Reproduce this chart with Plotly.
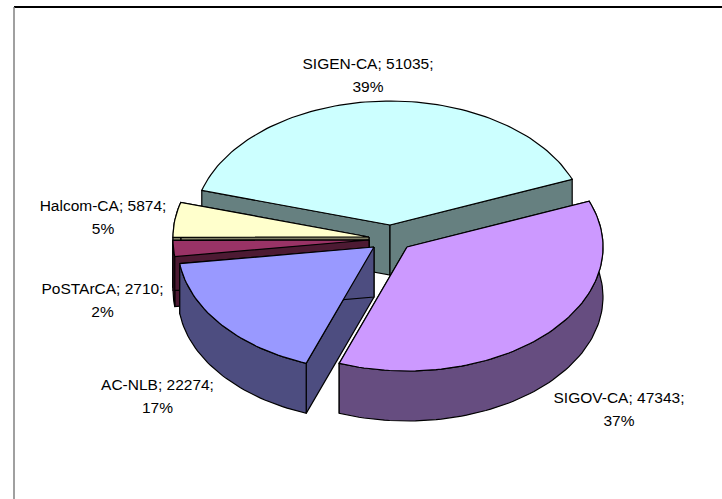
import math
import plotly.graph_objects as go

# ---- data ----
names = ["SIGEN-CA", "SIGOV-CA", "AC-NLB", "PoSTArCA", "Halcom-CA"]
values = [51035, 47343, 22274, 2710, 5874]

# ---- styles ----
top_colors = ["#CCFFFF", "#CC99FF", "#9999FF", "#993366", "#FFFFCC"]
wall_colors = ["#668080", "#664D80", "#4D4D80", "#4D1A33", "#808066"]
draw_order = [0, 4, 3, 2, 1]

# ---- projection settings (pixel axes) ----
W, H = 722, 499
CX, CY = 390, 225
RX, RY = 196, 124
DEPTH = 50
START_DEG = 286.2
explode_offsets = [(0, 0), (17, 22), (-16, 22), (-21, 15), (-21, 12)]
label_anchor = [(368, 65), (619, 399), (157.5, 386), (102.5, 290), (103, 207)]
LINE_GAP = 23
FONT = dict(family="Liberation Sans, Arial, sans-serif", size=15.5, color="#000000")

total = sum(values)


def rim(ax, ay, deg, drop=0):
    t = math.radians(deg)
    return ax + RX * math.sin(t), ay - RY * math.cos(t) + drop


def arc(ax, ay, a0, a1, drop=0):
    n = max(2, int(abs(a1 - a0) / 1.5) + 1)
    return [rim(ax, ay, a0 + (a1 - a0) * i / (n - 1), drop) for i in range(n)]


def poly(pts, fill):
    xs = [p[0] for p in pts] + [pts[0][0]]
    ys = [p[1] for p in pts] + [pts[0][1]]
    return go.Scatter(x=xs, y=ys, mode="lines", fill="toself", fillcolor=fill,
                      line=dict(color="#000000", width=1.2), hoverinfo="skip",
                      showlegend=False)


spans, a = [], START_DEG
for v in values:
    s = v / total * 360
    spans.append((a, a + s))
    a += s

fig = go.Figure()

# frame
fig.add_trace(go.Scatter(x=[14, W], y=[7, 7], mode="lines",
                         line=dict(color="#000000", width=2), hoverinfo="skip", showlegend=False))
fig.add_trace(go.Scatter(x=[14, 14], y=[7, H], mode="lines",
                         line=dict(color="#808080", width=1.5), hoverinfo="skip", showlegend=False))

for i in draw_order:
    a0, a1 = spans[i]
    ax, ay = CX + explode_offsets[i][0], CY + explode_offsets[i][1]
    wall, top = wall_colors[i], top_colors[i]
    for edge in (a0, a1):
        p = rim(ax, ay, edge)
        fig.add_trace(poly([(ax, ay), p, (p[0], p[1] + DEPTH), (ax, ay + DEPTH)], wall))
    if i != 0:
        fig.add_trace(poly(arc(ax, ay, a0, a1) + arc(ax, ay, a1, a0, DEPTH), wall))
    fig.add_trace(poly([(ax, ay)] + arc(ax, ay, a0, a1), top))

# labels
label_x, label_y, label_text = [], [], []
for name, v, (lx, ly) in zip(names, values, label_anchor):
    label_x += [lx, lx]
    label_y += [ly, ly + LINE_GAP]
    label_text += [f"{name}; {v};", f"{round(v / total * 100)}%"]
fig.add_trace(go.Scatter(x=label_x, y=label_y, text=label_text, mode="text",
                         textposition="middle center", textfont=FONT,
                         hoverinfo="skip", showlegend=False))

fig.update_layout(
    width=W, height=H, margin=dict(l=0, r=0, t=0, b=0),
    paper_bgcolor="#FFFFFF", plot_bgcolor="#FFFFFF", showlegend=False,
    xaxis=dict(range=[0, W], visible=False, fixedrange=True),
    yaxis=dict(range=[H, 0], visible=False, fixedrange=True),
)
fig.write_html("out.html", config={"displayModeBar": False},
               post_script="document.body.style.margin='0';document.documentElement.style.overflow='hidden';")
